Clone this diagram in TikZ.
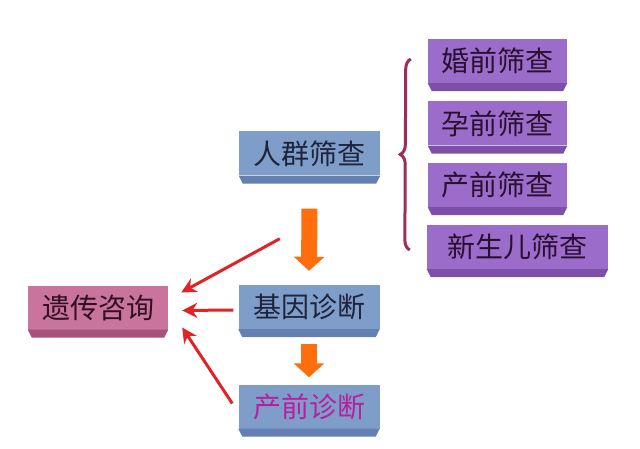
\documentclass[tikz,border=0pt]{standalone}
\usepackage{fontspec}
\newfontfamily\zh{Noto Sans CJK SC}
\usetikzlibrary{arrows.meta,decorations.pathreplacing}

\definecolor{blueface}{RGB}{127,157,201}
\definecolor{bluebevel}{RGB}{100,128,178}
\definecolor{purpleface}{RGB}{156,108,202}
\definecolor{purplebevel}{RGB}{124,80,168}
\definecolor{pinkface}{RGB}{200,116,156}
\definecolor{pinkbevel}{RGB}{166,82,124}
\definecolor{bracecol}{RGB}{156,44,92}
\definecolor{redarr}{RGB}{226,34,36}
\definecolor{orangearr}{RGB}{255,110,12}
\definecolor{magtext}{RGB}{184,30,160}

\begin{document}
\begin{tikzpicture}[x=1pt,y=-1pt,font=\zh\fontsize{28}{30}\selectfont,
  box/.style={rectangle,inner sep=0pt,minimum height=44pt,minimum width=141pt},
  bluebox/.style={box,fill=blueface,text={rgb,255:red,30;green,36;blue,60}},
  purplebox/.style={box,fill=purpleface,minimum width=139pt,text={rgb,255:red,40;green,16;blue,48}},
  pinkbox/.style={box,fill=pinkface,minimum width=140pt,text={rgb,255:red,50;green,16;blue,36}},
  fat/.style={draw=orangearr,line width=16pt,-{Triangle[width=30pt,length=14pt]}},
  thin/.style={draw=redarr,line width=3pt,-{Stealth[width=15pt,length=15pt]}}]
  \useasboundingbox (0,0) rectangle (640,449);

  % centre column
  \node[bluebox] (screen) at (309.5,153.5) {人群筛查};
  \node[bluebox] (gene) at (309,307) {基因诊断};
  \node[bluebox,text=magtext] (prenatal) at (309,406.5) {产前诊断};
  \node[pinkbox] (counsel) at (98,307.5) {遗传咨询};

  % screening kinds
  \node[purplebox] (premarital) at (497.5,61) {婚前筛查};
  \node[purplebox] (preconception) at (497.5,123.5) {孕前筛查};
  \node[purplebox] (antenatal) at (497.5,185) {产前筛查};
  \node[purplebox,minimum width=181pt] (newborn) at (517.5,247) {新生儿筛查};

  \foreach \n/\c in {screen/bluebevel,gene/bluebevel,prenatal/bluebevel,
      counsel/pinkbevel,premarital/purplebevel,preconception/purplebevel,
      antenatal/purplebevel,newborn/purplebevel}
    \fill[\c] (\n.south west) -- (\n.south east)
      -- ([xshift=-4pt,yshift=-8pt]\n.south east)
      -- ([xshift=4pt,yshift=-8pt]\n.south west) -- cycle;

  \draw[bracecol,line width=3pt,decorate,decoration={brace,amplitude=10pt}]
    ([xshift=-17pt,yshift=-3pt]newborn.west) -- ([xshift=-17pt,yshift=2pt]premarital.west);

  \draw[fat] ([yshift=-33pt]screen.south) -- ([yshift=14pt]gene.north);
  \draw[fat] ([yshift=-15pt]gene.south) -- ([yshift=7pt]prenatal.north);

  \draw[thin] ([xshift=41pt,yshift=-63pt]screen.south west) -- ([xshift=13pt,yshift=15pt]counsel.east);
  \draw[thin] ([xshift=-5pt,yshift=-3pt]gene.west) -- ([xshift=14pt,yshift=-3pt]counsel.east);
  \draw[thin] ([xshift=-6pt,yshift=3pt]prenatal.west) -- ([xshift=14pt,yshift=-20pt]counsel.east);
\end{tikzpicture}
\end{document}
